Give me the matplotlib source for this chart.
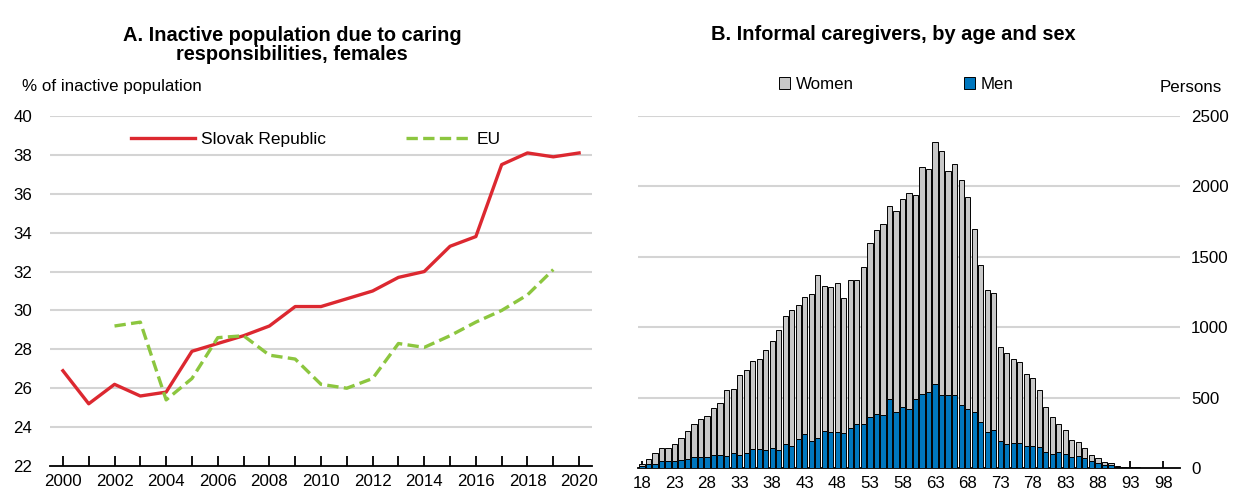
import numpy as np
import matplotlib
matplotlib.use('Agg')
import matplotlib.pyplot as plt

plt.rcParams['font.family'] = ['Liberation Sans', 'DejaVu Sans']
plt.rcParams['font.size'] = 12.2

# Panel A data
years = list(range(2000, 2021))
slovak = [26.9, 25.2, 26.2, 25.6, 25.8, 27.9, 28.3, 28.7, 29.2, 30.2, 30.2,
          30.6, 31.0, 31.7, 32.0, 33.3, 33.8, 37.5, 38.1, 37.9, 38.1]
eu_years = list(range(2002, 2020))
eu = [29.2, 29.4, 25.4, 26.5, 28.6, 28.7, 27.7, 27.5, 26.2, 26.0, 26.5,
      28.3, 28.1, 28.7, 29.4, 30.0, 30.8, 32.1]

# Panel B data (ages 18..100)
ages = list(range(18, 101))
men = [12, 26, 31, 47, 50, 50, 57, 62, 78, 76, 81, 90, 90, 83, 104, 92, 104,
       133, 133, 130, 140, 128, 171, 154, 206, 244, 194, 211, 263, 256, 256,
       246, 282, 315, 310, 360, 384, 374, 488, 398, 431, 422, 493, 524, 540,
       595, 517, 517, 519, 450, 417, 398, 327, 256, 268, 190, 171, 178, 178,
       154, 154, 152, 111, 100, 111, 100, 76, 83, 71, 47, 33, 24, 19, 5, 3,
       2, 2, 1, 1, 1, 1, 0, 0]
women = [18, 40, 73, 93, 90, 123, 154, 203, 232, 275, 291, 334, 370, 474,
         460, 567, 593, 630, 640, 707, 765, 853, 905, 967, 953, 969, 1041,
         1161, 1029, 1026, 1055, 960, 1052, 1019, 1119, 1237, 1308, 1361,
         1372, 1424, 1479, 1531, 1446, 1611, 1584, 1718, 1735, 1592, 1642,
         1598, 1507, 1299, 1112, 1005, 976, 668, 644, 595, 573, 512, 484, 403,
         325, 260, 204, 170, 123, 99, 69, 43, 40, 21, 14, 7, 4, 3, 2, 2, 1, 1,
         1, 1, 1]

red = '#dc2830'
green = '#8cc63f'
blue = '#0077be'
grey = '#c8c8c8'
gridc = '#d4d4d4'

fig = plt.figure(figsize=(12.36, 4.94), dpi=100)

# ---- Panel A
ax1 = fig.add_axes([50 / 1236, 1 - 466 / 494, 542 / 1236, 350 / 494])
ax1.plot(years, slovak, color=red, lw=2.4, label='Slovak Republic')
ax1.plot(eu_years, eu, color=green, lw=2.4, ls=(0, (3.4, 1.6)), label='EU')
ax1.set_xlim(1999.5, 2020.5)
ax1.set_ylim(22, 40)
ax1.set_yticks(range(22, 41, 2))
ax1.set_xticks(years)
ax1.set_xticklabels([str(y) if y % 2 == 0 else '' for y in years])
for y in range(24, 41, 2):
    ax1.axhline(y, color=gridc, lw=1.5, zorder=0)
for s in ['top', 'right', 'left']:
    ax1.spines[s].set_visible(False)
ax1.spines['bottom'].set_linewidth(1.3)
ax1.tick_params(axis='x', direction='in', length=7, width=1.3, pad=6)
ax1.tick_params(axis='y', length=0, pad=13)
ax1.legend(loc='upper center', bbox_to_anchor=(0.49, 1.0), ncol=2,
           frameon=False, handlelength=3.7, handletextpad=0.35,
           columnspacing=4.6, fontsize=12.5)
fig.text(22 / 1236, 1 - 86 / 494, '% of inactive population', ha='left', va='center')
fig.text(292 / 1236, 1 - 45 / 494, 'A. Inactive population due to caring\nresponsibilities, females',
         ha='center', va='center', fontsize=14.4, fontweight='bold', linespacing=1.05)

# ---- Panel B
ax2 = fig.add_axes([638 / 1236, 1 - 468 / 494, 542 / 1236, 352 / 494])
ax2.bar(ages, men, width=0.8, color=blue, edgecolor='black', lw=0.7, label='Men', zorder=3)
ax2.bar(ages, women, bottom=men, width=0.8, color=grey, edgecolor='black', lw=0.7,
        label='Women', zorder=3)
ax2.set_xlim(17.4, 100.6)
ax2.set_ylim(0, 2500)
ax2.set_yticks(range(0, 2501, 500))
ax2.set_xticks(range(18, 99, 5))
for v in range(500, 2501, 500):
    ax2.axhline(v, color=gridc, lw=1.5, zorder=0)
for s in ['top', 'right', 'left']:
    ax2.spines[s].set_visible(False)
ax2.spines['bottom'].set_linewidth(1.3)
ax2.yaxis.tick_right()
ax2.tick_params(axis='y', length=0, pad=8)
ax2.tick_params(axis='x', direction='in', length=5, width=1.3, pad=6)
h, l = ax2.get_legend_handles_labels()
ax2.legend(h[::-1], l[::-1], loc='lower center', bbox_to_anchor=(0.476, 1.025), ncol=2,
           frameon=False, handlelength=0.7, handleheight=0.7, handletextpad=0.3,
           columnspacing=6.5)
fig.text(1222 / 1236, 1 - 88 / 494, 'Persons', ha='right', va='center')
fig.text(893 / 1236, 1 - 34 / 494, 'B. Informal caregivers, by age and sex',
         ha='center', va='center', fontsize=14.4, fontweight='bold')

fig.savefig('out.png', dpi=100)
